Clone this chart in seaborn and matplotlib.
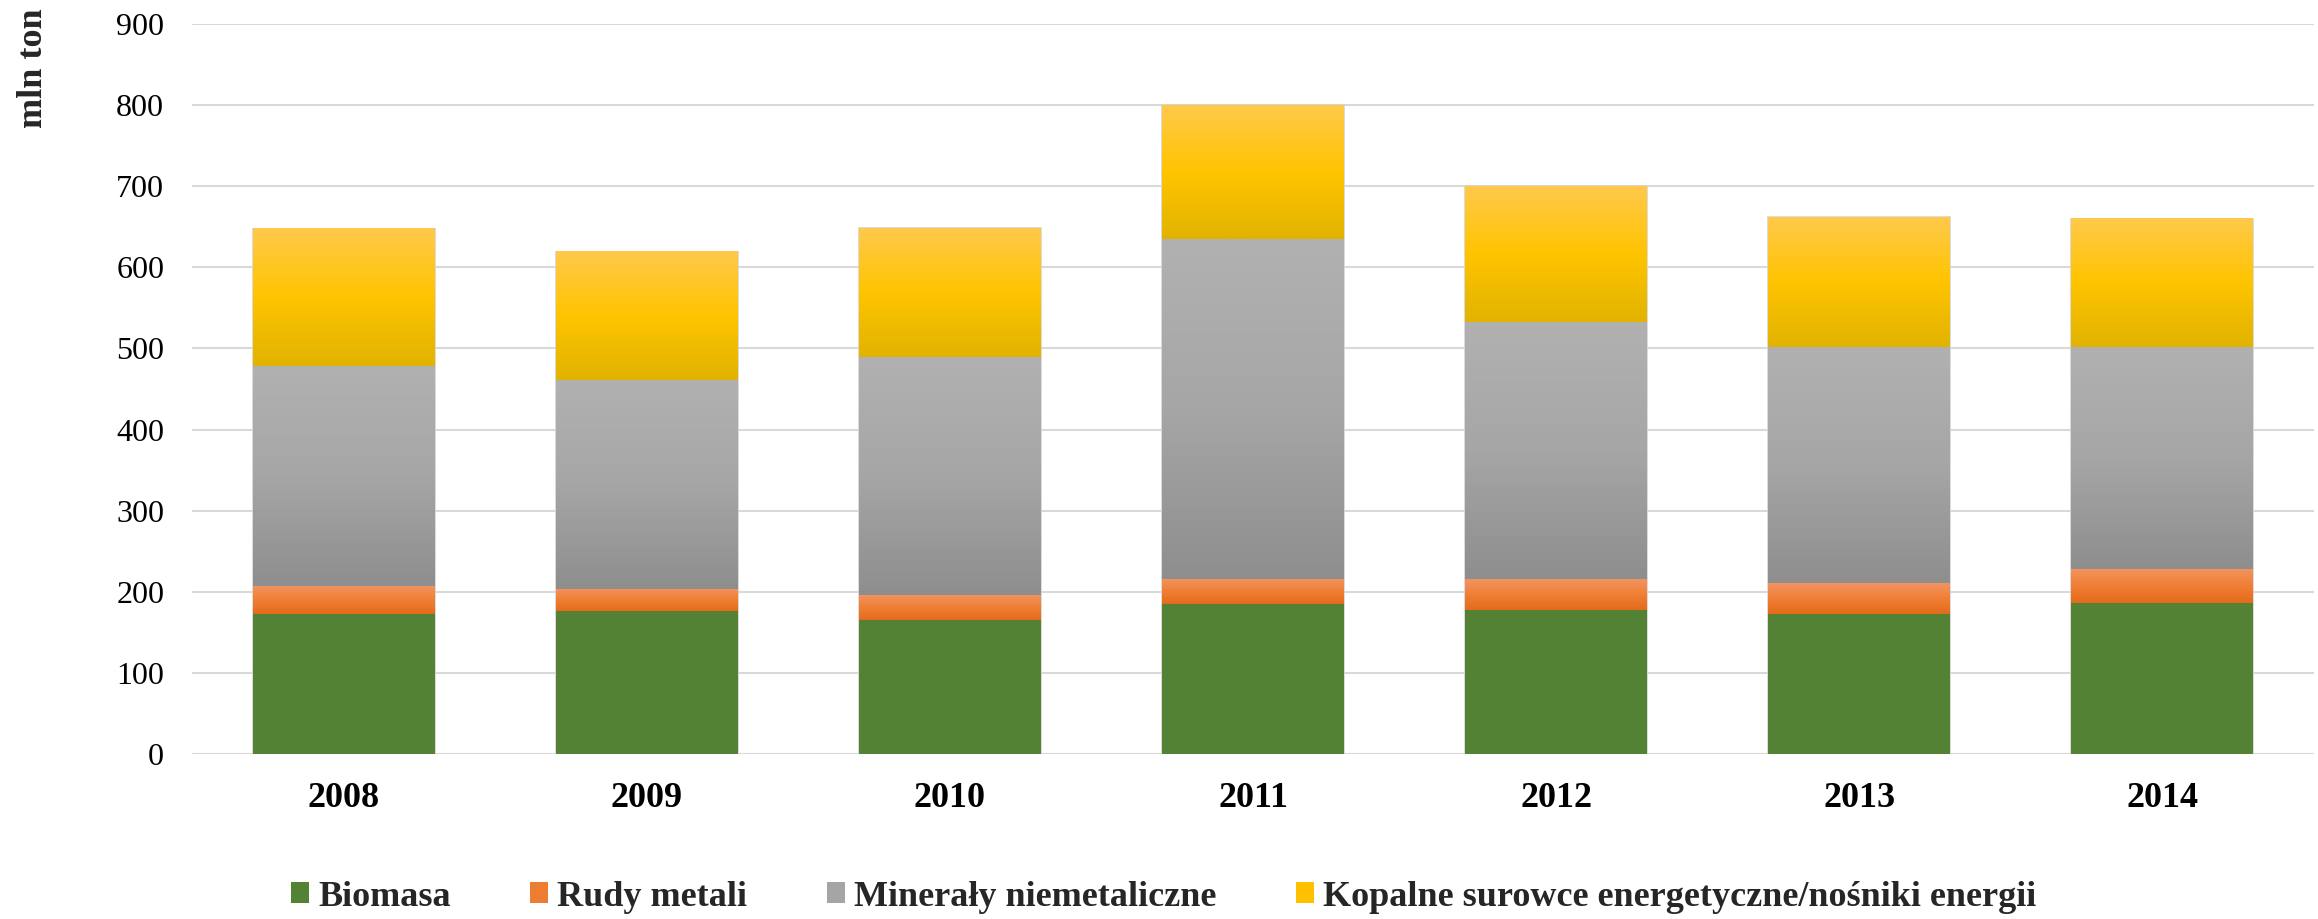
import numpy as np
import pandas as pd
import matplotlib
matplotlib.use("Agg")
import matplotlib.pyplot as plt
import seaborn as sns
from matplotlib.patches import Patch
from matplotlib.colors import LinearSegmentedColormap

# ---- data (mln ton) ----
years = ["2008", "2009", "2010", "2011", "2012", "2013", "2014"]
biomasa = [172, 176, 165, 185, 178, 173, 186]
rudy_metali = [35, 28, 31, 31, 38, 38, 42]
mineraly = [271, 257, 294, 419, 317, 291, 274]
kopalne = [169, 158, 158, 165, 167, 160, 158]
series_names = ["Biomasa", "Rudy metali", "Minerały niemetaliczne",
                "Kopalne surowce energetyczne/nośniki energii"]
yticks = [0, 100, 200, 300, 400, 500, 600, 700, 800, 900]

base_colors = ["#548235", "#ED7D31", "#A5A5A5", "#FFC000"]
# gradients top -> bottom (None = solid)
gradients = [
    None,
    ["#F29462", "#F07F35", "#E46B1A"],
    ["#B1B1B1", "#A6A6A6", "#8E8E8E"],
    ["#FFC94C", "#FFC400", "#E1B300"],
]

sns.set_theme(style="white")
plt.rcParams['font.family'] = ['Liberation Serif', 'DejaVu Serif']

W, H = 2318, 919
fig = plt.figure(figsize=(W / 100, H / 100), dpi=100)
ax = fig.add_axes([192 / W, 1 - 754 / H, (2314 - 192) / W, (754 - 24) / H])

layers = [biomasa, rudy_metali, mineraly, kopalne]
cum = np.cumsum(np.array(layers, dtype=float), axis=0)
df = pd.DataFrame({"year": years})
for name, c in zip(series_names, cum):
    df[name] = c

layer_patches = {}
for i in reversed(range(4)):
    n0 = len(ax.patches)
    sns.barplot(data=df, x="year", y=series_names[i], color=base_colors[i],
                width=0.6, errorbar=None, ax=ax, zorder=2,
                edgecolor="#D4D4D4" if i == 3 else "none",
                linewidth=1.2 if i == 3 else 0, saturation=1)
    layer_patches[i] = ax.patches[n0:]

# gradient overlays for each segment
for i in range(1, 4):
    if gradients[i] is None:
        continue
    cmap = LinearSegmentedColormap.from_list(f"g{i}", gradients[i])
    grad = np.linspace(0, 1, 256).reshape(-1, 1)
    for p, pb in zip(layer_patches[i], layer_patches[i - 1]):
        x0 = p.get_x()
        x1 = x0 + p.get_width()
        top = p.get_height()
        bottom = pb.get_height()
        ax.imshow(grad, cmap=cmap, extent=(x0, x1, bottom, top), origin="upper",
                  aspect="auto", interpolation="bilinear", zorder=3)

ax.set_xlim(-0.5, 6.5)
ax.set_ylim(0, 900)
ax.set_yticks(yticks)
ax.set_yticklabels([str(v) for v in yticks])
ax.set_xlabel("")
ax.set_ylabel("")
for s in ax.spines.values():
    s.set_visible(False)
ax.yaxis.grid(True, color="#D9D9D9", linewidth=1.5, zorder=0)
ax.set_axisbelow(True)
ax.tick_params(axis="y", length=0, pad=20, labelsize=23, labelcolor="black")
ax.tick_params(axis="x", length=0, pad=20, labelsize=26, labelcolor="black")
for t in ax.get_xticklabels():
    t.set_fontweight("bold")

fig.text(33 / W, 1 - 8 / H, "mln ton", rotation=90, va="top", ha="center",
         fontweight="bold", fontsize=26)

handles = [Patch(facecolor=c, edgecolor="none") for c in base_colors]
fig.legend(handles, series_names, loc="center",
           bbox_to_anchor=(0.502, 1 - 897 / H), ncol=4, frameon=False,
           prop=dict(weight="bold", size=26), handlelength=0.5,
           handleheight=0.5, handletextpad=0.25, columnspacing=2.2)

fig.savefig("out.png", dpi=100)
